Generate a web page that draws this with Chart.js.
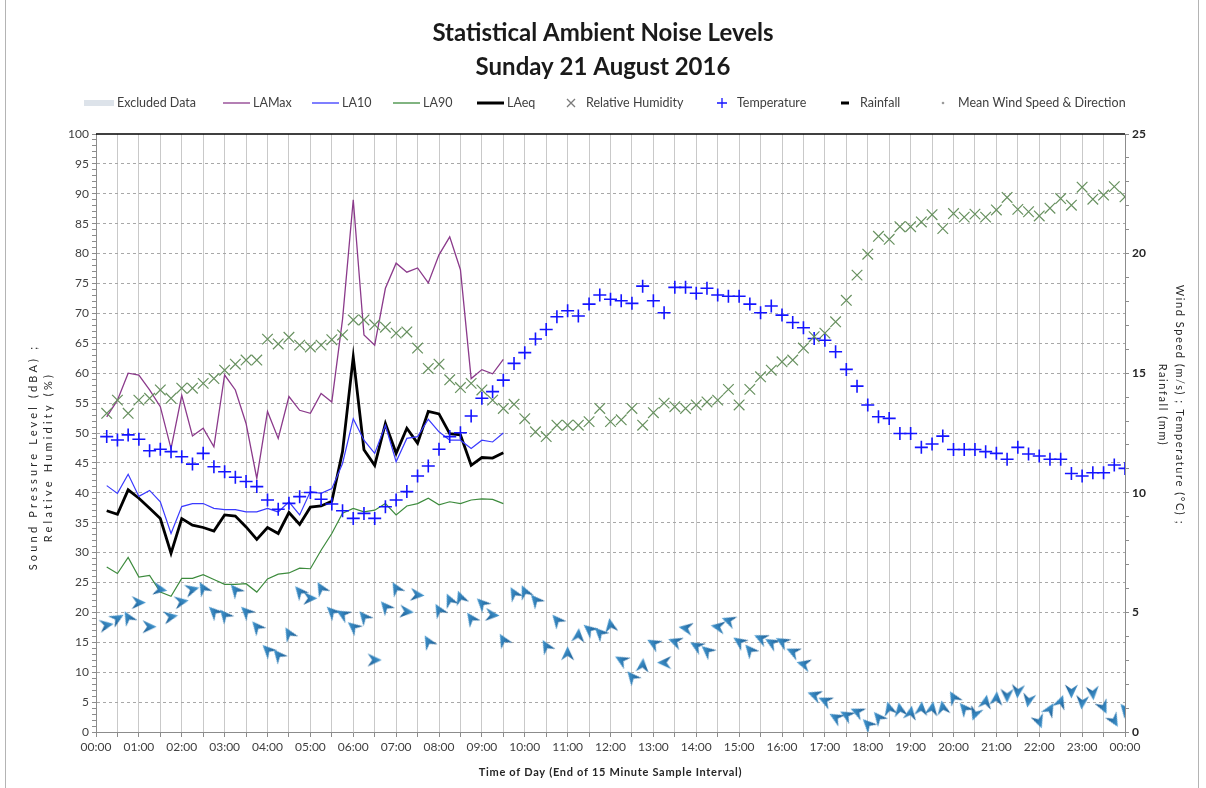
<!DOCTYPE html>
<html><head><meta charset="utf-8">
<script src="https://cdn.jsdelivr.net/npm/chart.js@4.4.1/dist/chart.umd.min.js"></script>
<style>html,body{margin:0;padding:0;background:#fff;}#wrap{width:1206px;height:788px;position:relative;}</style>
</head><body><div id="wrap"><canvas id="c" width="1206" height="788"></canvas></div>
<script>
// ---------------- DATA ----------------
const times = ["00:15","00:30","00:45","01:00","01:15","01:30","01:45","02:00","02:15","02:30","02:45","03:00",
"03:15","03:30","03:45","04:00","04:15","04:30","04:45","05:00","05:15","05:30","05:45","06:00",
"06:15","06:30","06:45","07:00","07:15","07:30","07:45","08:00","08:15","08:30","08:45","09:00",
"09:15","09:30","09:45","10:00","10:15","10:30","10:45","11:00","11:15","11:30","11:45","12:00",
"12:15","12:30","12:45","13:00","13:15","13:30","13:45","14:00","14:15","14:30","14:45","15:00",
"15:15","15:30","15:45","16:00","16:15","16:30","16:45","17:00","17:15","17:30","17:45","18:00",
"18:15","18:30","18:45","19:00","19:15","19:30","19:45","20:00","20:15","20:30","20:45","21:00",
"21:15","21:30","21:45","22:00","22:15","22:30","22:45","23:00","23:15","23:30","23:45","24:00"];
const xTickLabels = ["00:00","01:00","02:00","03:00","04:00","05:00","06:00","07:00","08:00","09:00","10:00","11:00",
"12:00","13:00","14:00","15:00","16:00","17:00","18:00","19:00","20:00","21:00","22:00","23:00","00:00"];

const laMax = [52.7,55.5,60.0,59.7,57.2,54.4,47.4,56.3,49.5,50.8,47.7,59.7,57.2,51.6,42.4,53.6,49.1,56.1,53.8,53.3,
56.6,55.2,69.0,89.0,66.4,64.7,74.2,78.4,76.9,77.6,75.1,79.8,82.8,77.3,59.1,60.6,59.9,62.3];
const la10 = [41.2,39.9,43.1,39.4,40.4,38.5,33.2,37.7,38.2,38.2,37.4,37.2,37.2,36.8,36.8,37.4,36.8,38.5,36.3,40.2,
39.9,40.7,44.9,52.4,48.8,46.6,51.3,45.2,49.1,49.4,52.3,50.2,48.8,48.8,47.4,48.8,48.5,50.0];
const la90 = [27.6,26.5,29.2,25.9,26.2,23.4,22.7,25.7,25.7,26.3,25.5,24.7,24.7,24.8,23.4,25.6,26.4,26.6,27.4,27.3,
30.4,33.2,36.6,37.4,36.8,37.1,38.2,36.3,37.8,38.2,39.1,38.0,38.5,38.2,38.8,39.0,38.9,38.2];
const laEq = [37.0,36.4,40.5,39.1,37.4,35.7,29.9,35.7,34.6,34.2,33.6,36.3,36.1,34.3,32.2,34.2,33.2,36.7,34.7,37.6,
37.8,38.6,46.9,62.7,47.2,44.6,51.6,46.6,50.8,48.3,53.6,53.2,49.9,49.7,44.6,45.9,45.8,46.7];
const humidity = [53.3,55.5,53.3,55.5,55.8,57.2,55.8,57.5,57.5,58.3,59.1,60.5,61.5,62.2,62.2,65.7,64.9,66.0,64.7,64.4,
64.7,65.6,66.4,68.9,68.9,68.1,67.7,66.7,66.9,64.2,60.8,61.5,58.9,57.6,58.3,
57.2,55.5,54.1,54.8,52.4,50.2,49.4,51.3,51.3,51.3,51.9,54.1,51.9,52.2,54.1,51.3,53.4,55.0,54.4,54.1,54.7,55.2,55.5,
57.3,54.7,57.3,59.4,60.5,61.9,62.2,64.2,66.1,66.7,68.6,72.2,76.4,
79.9,82.9,82.4,84.5,84.5,85.3,86.5,84.2,86.7,86.1,86.6,86.1,87.3,89.4,87.4,87.0,86.3,87.6,89.2,88.1,91.1,89.1,89.8,91.2,89.5];
const temperature = [12.35,12.21,12.42,12.24,11.76,11.82,11.72,11.51,11.20,11.65,11.09,10.88,10.65,10.47,10.26,9.70,9.31,9.56,
9.84,10.01,9.73,9.53,9.25,8.93,9.14,8.93,9.42,9.70,10.05,10.70,11.12,11.82,12.35,12.51,13.21,13.95,14.23,14.71,
15.41,15.86,16.43,16.83,17.36,17.61,17.39,17.89,18.27,18.09,18.03,17.92,18.64,18.03,17.53,18.59,18.59,18.34,18.55,
18.27,18.22,18.22,17.89,17.53,17.81,17.43,17.12,16.90,16.45,16.38,15.90,15.16,14.46,
13.67,13.18,13.11,12.48,12.48,11.90,12.04,12.37,11.81,11.81,11.81,11.72,11.65,11.40,11.90,11.62,11.54,11.40,11.40,
10.81,10.70,10.84,10.84,11.16,11.02];
const windSpeed = [4.47,4.75,4.79,5.41,4.40,5.96,4.82,5.45,5.96,6.01,5.03,4.89,5.94,5.03,4.40,3.43,3.22,4.12,5.87,5.59,
6.01,5.03,4.93,4.40,4.82,3.01,5.24,6.01,5.03,5.73,3.78,5.10,5.52,5.63,4.75,5.38,4.89,3.85,5.80,5.87,5.52,3.59,4.68,
3.29,4.05,4.29,4.15,
4.47,3.01,2.31,2.80,3.71,2.90,3.78,4.34,3.60,3.40,4.40,4.66,3.78,3.43,3.92,3.74,3.78,3.36,2.84,1.55,1.31,0.61,0.71,
0.85,0.33,0.61,0.99,0.95,0.81,0.99,0.99,1.03,1.45,0.99,0.75,1.27,1.41,1.51,1.69,1.31,0.43,0.95,1.27,1.69,1.23,1.62,
1.03,0.47,0.95];
const windDir = [80,60,330,90,90,100,80,80,75,330,315,320,320,315,320,315,320,330,320,90,330,315,300,310,320,90,320,330,
95,95,330,330,335,340,325,315,95,330,330,335,320,330,320,0,5,310,315,350,300,320,5,300,270,290,280,300,310,280,290,
305,320,295,300,300,295,285,290,295,300,300,295,315,320,345,350,10,5,10,350,330,320,200,10,5,180,185,190,160,30,20,
180,185,175,155,150,320];
const rainfall = [];
const excluded = [];

// ---------------- HELPERS ----------------
const FONT = 'Lato, "Open Sans", sans-serif';
const TXT = '#404040';
function toMin(t){ const p = t.split(':'); return (+p[0])*60 + (+p[1]); }
function pts(vals){ return vals.map((v,i)=>({x: toMin(times[i]), y: v})); }

function makeArrow(){
  const c = document.createElement('canvas'); c.width = 15; c.height = 15;
  const g = c.getContext('2d');
  g.beginPath(); g.moveTo(7.5,0.5); g.lineTo(14,14.5); g.lineTo(7.5,10); g.lineTo(1,14.5); g.closePath();
  const gr = g.createLinearGradient(2,2,13,13);
  gr.addColorStop(0,'#49a2dc'); gr.addColorStop(1,'#1b5e95');
  g.fillStyle = gr; g.fill();
  return c;
}
const arrowImg = makeArrow();

// fix an axis' size and draw its title with the letter spacing / offset of the original
function fitScale(prop, size, spacing, dy){
  return s => {
    s[prop] = size;
    if (!s.__spaced){
      const orig = s.drawTitle;
      s.drawTitle = function(){ const c = this.ctx; c.save(); c.letterSpacing = spacing; c.translate(0, dy); orig.call(this); c.restore(); };
      s.__spaced = true;
    }
  };
}

const COL = {laMax:'#8b3a8b', la10:'#3a3aff', la90:'#3d8b3d', laEq:'#000000', hum:'#67905f', temp:'#1414ff', excl:'#dde3ea'};

const legendItems = [
  {text:'Excluded Data', kind:'line', color:COL.excl, width:6, x:84, len:30},
  {text:'LAMax', kind:'line', color:COL.laMax, width:1.3, x:223, len:27},
  {text:'LA10', kind:'line', color:COL.la10, width:1.3, x:312, len:27},
  {text:'LA90', kind:'line', color:COL.la90, width:1.3, x:393, len:27},
  {text:'LAeq', kind:'line', color:COL.laEq, width:3, x:477, len:27},
  {text:'Relative Humidity', kind:'crossRot', color:'#7a7a7a', x:571},
  {text:'Temperature', kind:'cross', color:COL.temp, x:722},
  {text:'Rainfall', kind:'dash', color:'#000', x:845},
  {text:'Mean Wind Speed & Direction', kind:'dot', color:'#9a9a9a', x:943}
];

const decor = {
  id:'decor',
  afterDraw(chart){
    const ctx = chart.ctx, a = chart.chartArea;
    ctx.save();
    ctx.strokeStyle = '#b4b4b4'; ctx.lineWidth = 1;
    ctx.beginPath(); ctx.moveTo(5.5,0); ctx.lineTo(5.5,788); ctx.moveTo(1198.5,0); ctx.lineTo(1198.5,788); ctx.stroke();
    ctx.strokeStyle = '#000'; ctx.lineWidth = 1.5;
    ctx.beginPath(); ctx.moveTo(a.left, a.top); ctx.lineTo(a.right, a.top); ctx.stroke();
    const y = 103;
    ctx.font = '12.5px ' + FONT; ctx.textBaseline = 'middle'; ctx.textAlign = 'left';
    legendItems.forEach(it=>{
      let tx;
      if (it.kind === 'line'){
        ctx.strokeStyle = it.color; ctx.lineWidth = it.width; ctx.lineCap = 'butt';
        ctx.beginPath(); ctx.moveTo(it.x, y); ctx.lineTo(it.x+it.len, y); ctx.stroke();
        tx = it.x + it.len + 3;
      } else {
        ctx.strokeStyle = it.color; ctx.fillStyle = it.color; ctx.lineWidth = 1.3;
        ctx.beginPath();
        if (it.kind === 'crossRot'){ const r=4; ctx.moveTo(it.x-r,y-r); ctx.lineTo(it.x+r,y+r); ctx.moveTo(it.x+r,y-r); ctx.lineTo(it.x-r,y+r); ctx.stroke(); }
        else if (it.kind === 'cross'){ const r=5; ctx.moveTo(it.x-r,y); ctx.lineTo(it.x+r,y); ctx.moveTo(it.x,y-r); ctx.lineTo(it.x,y+r); ctx.stroke(); }
        else if (it.kind === 'dash'){ ctx.fillRect(it.x-4, y-1.5, 8, 3); }
        else { ctx.arc(it.x, y, 1.3, 0, Math.PI*2); ctx.fill(); }
        tx = it.x + 15;
      }
      ctx.fillStyle = TXT;
      ctx.fillText(it.text, tx, y);
    });
    ctx.restore();
  }
};

new Chart(document.getElementById('c'), {
  type:'line',
  data:{ datasets:[
    {label:'Excluded Data', data:excluded, borderColor:COL.excl, borderWidth:6, pointRadius:0, yAxisID:'y'},
    {label:'Relative Humidity', data:pts(humidity), showLine:false, pointStyle:'crossRot', pointRadius:7.5, pointBorderWidth:1.2, borderColor:COL.hum, backgroundColor:COL.hum, yAxisID:'y'},
    {label:'Temperature', data:pts(temperature), showLine:false, pointStyle:'cross', pointRadius:6.5, pointBorderWidth:1.6, borderColor:COL.temp, backgroundColor:COL.temp, yAxisID:'y2'},
    {label:'Rainfall', data:rainfall, showLine:false, pointStyle:'line', pointRadius:4, borderColor:'#000', yAxisID:'y2'},
    {label:'Mean Wind Speed & Direction', data:pts(windSpeed), showLine:false, pointStyle:arrowImg, pointRotation:windDir, pointRadius:7, borderColor:'#2a7fc0', yAxisID:'y2'},
    {label:'LA90', data:pts(la90), borderColor:COL.la90, borderWidth:1.2, pointRadius:0, tension:0, yAxisID:'y'},
    {label:'LA10', data:pts(la10), borderColor:COL.la10, borderWidth:1.2, pointRadius:0, tension:0, yAxisID:'y'},
    {label:'LAMax', data:pts(laMax), borderColor:COL.laMax, borderWidth:1.3, pointRadius:0, tension:0, yAxisID:'y'},
    {label:'LAeq', data:pts(laEq), borderColor:COL.laEq, borderWidth:2.8, pointRadius:0, tension:0, yAxisID:'y'}
  ]},
  options:{
    responsive:false, animation:false, devicePixelRatio:1,
    layout:{padding:0},
    plugins:{
      legend:{display:false}, tooltip:{enabled:false},
      title:{display:true, text:['Statistical Ambient Noise Levels','Sunday 21 August 2016'],
        font:{family:FONT, size:24, weight:'bold', lineHeight:1.417}, color:'#1a1a1a', padding:{top:16, bottom:50}}
    },
    scales:{
      x:{ type:'linear', min:0, max:1440,
        ticks:{stepSize:30, autoSkip:false, maxRotation:0, padding:3, color:TXT, font:{family:FONT, size:12},
          callback:v=> (v % 60 === 0) ? xTickLabels[v/60] : ''},
        grid:{color:'#c9c9c9', lineWidth:1, tickLength:5, tickColor:'#8c8c8c'},
        border:{color:'#8c8c8c'},
        title:{display:true, text:'Time of Day (End of 15 Minute Sample Interval)', color:'#262626',
          font:{family:FONT, size:11, weight:'bold', lineHeight:1.2}, padding:{top:4, bottom:9}},
        afterFit:fitScale('height', 56, '0.7px', 0)
      },
      y:{ position:'left', min:0, max:100,
        ticks:{stepSize:1, autoSkip:false, padding:3, color:TXT, font:{family:FONT, size:12},
          callback:v=> (v % 5 === 0) ? v : ''},
        grid:{color:c=> (c.tick && c.tick.value % 5 === 0 && c.tick.value > 0 && c.tick.value < 100) ? '#a8a8a8' : 'rgba(0,0,0,0)',
          tickColor:'#8c8c8c', tickLength:4},
        border:{color:'#8c8c8c', dash:[3,3]},
        title:{display:true, text:['Sound Pressure Level (dBA) ;','Relative Humidity (%)'], color:'#262626',
          font:{family:FONT, size:11, lineHeight:1.4}, padding:{top:25.5, bottom:0}},
        afterFit:fitScale('width', 96, '3.2px', 24)
      },
      y2:{ position:'right', min:0, max:25,
        ticks:{stepSize:1, autoSkip:false, padding:3, color:'#262626', font:{family:FONT, size:12, weight:'bold'},
          callback:v=> (v % 5 === 0) ? v : ''},
        grid:{drawOnChartArea:false, tickColor:'#8c8c8c', tickLength:4},
        border:{color:'#8c8c8c'},
        title:{display:true, text:['Wind Speed (m/s) ; Temperature (\u00B0C) ;','Rainfall (mm)'], color:'#262626',
          font:{family:FONT, size:11, lineHeight:1.5}, padding:{top:18.5, bottom:0}},
        afterFit:fitScale('width', 81, '1.6px', -28)
      }
    }
  },
  plugins:[decor]
});
</script></body></html>
